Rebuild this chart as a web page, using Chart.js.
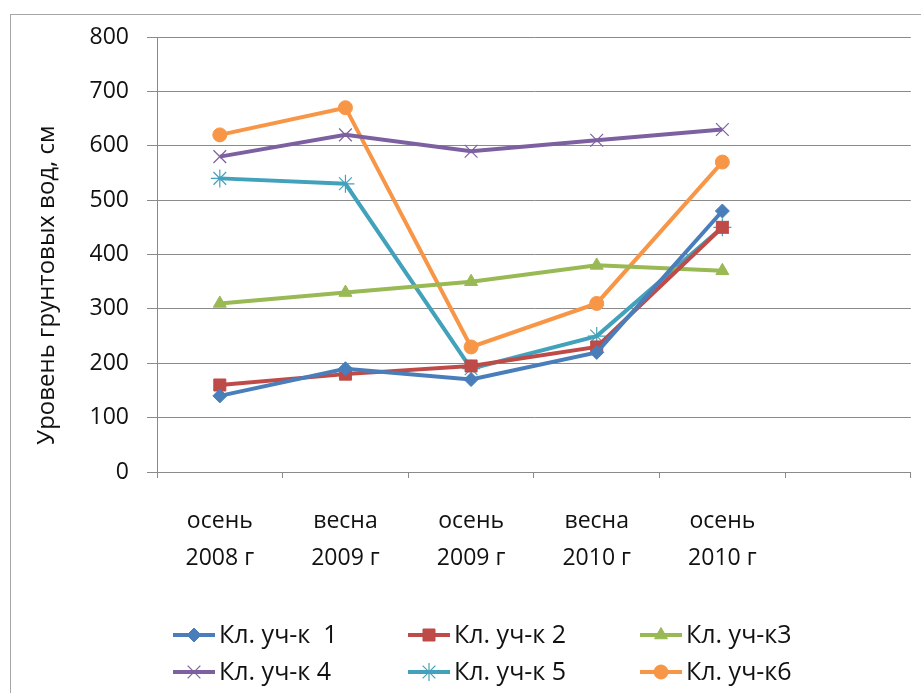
<!DOCTYPE html>
<html>
<head>
<meta charset="utf-8">
<script src="https://cdn.jsdelivr.net/npm/chart.js@4"></script>
<style>
  html, body { margin: 0; padding: 0; background: #fff; }
  #wrap { position: relative; width: 921px; height: 693px; overflow: hidden; }
  #frame { position: absolute; left: 10px; top: 14px; width: 940px; height: 720px; border: 1px solid #a6a6a6; }
  #c { position: absolute; left: 0; top: 0; }
</style>
</head>
<body>
<div id="wrap">
  <div id="frame"></div>
  <canvas id="c" width="921" height="693"></canvas>
</div>
<script>
// Sampling dates (the sixth slot is left blank on the axis)
const categories = [
  ['осень', '2008 г'],
  ['весна', '2009 г'],
  ['осень', '2009 г'],
  ['весна', '2010 г'],
  ['осень', '2010 г'],
  ''
];

const seriesNames = ['Кл. уч-к  1', 'Кл. уч-к 2', 'Кл. уч-к3', 'Кл. уч-к 4', 'Кл. уч-к 5', 'Кл. уч-к6'];

// Groundwater level, cm
const site1 = [140, 190, 170, 220, 480];
const site2 = [160, 180, 195, 230, 450];
const site3 = [310, 330, 350, 380, 370];
const site4 = [580, 620, 590, 610, 630];
const site5 = [540, 530, 190, 250, 450];
const site6 = [620, 670, 230, 310, 570];

const yTicks = { min: 0, max: 800, step: 100 };
const yTitle = 'Уровень грунтовых вод, см';

const FONT = '"Open Sans", "Noto Sans", sans-serif';
const TEXT = '#111';
const GRID = '#8a8a8a';

function series(label, data, color, style, radius, bw) {
  return {
    label, data,
    borderColor: color,
    backgroundColor: color,
    borderWidth: 4,
    pointStyle: style,
    pointRadius: radius,
    pointBorderWidth: bw,
    pointBackgroundColor: color,
    pointBorderColor: color,
    tension: 0,
    fill: false
  };
}

const datasets = [
  series(seriesNames[0], site1, '#4a7ebb', 'rectRot', 7, 1),
  series(seriesNames[1], site2, '#be4b48', 'rect', 8.5, 1),
  series(seriesNames[2], site3, '#98b954', 'triangle', 7.5, 1),
  series(seriesNames[3], site4, '#7d60a0', 'crossRot', 9, 1.2),
  series(seriesNames[4], site5, '#42a2bb', 'star', 9, 1.2),
  series(seriesNames[5], site6, '#f79646', 'circle', 7, 1)
];

// Rotated title on the value axis
const yTitlePlugin = {
  id: 'yTitle',
  afterDraw(chart) {
    const ctx = chart.ctx;
    ctx.save();
    ctx.translate(47, 285);
    ctx.rotate(-Math.PI / 2);
    ctx.font = '24px ' + FONT;
    ctx.fillStyle = TEXT;
    ctx.textAlign = 'center';
    ctx.textBaseline = 'middle';
    ctx.fillText(yTitle, 0, 0);
    ctx.restore();
  }
};

// Three-column legend below the axis
const gridLegend = {
  id: 'gridLegend',
  afterDraw(chart) {
    const ctx = chart.ctx;
    const cols = [173, 408, 640];
    const rows = [635, 672];
    chart.data.datasets.forEach((ds, i) => {
      const x = cols[i % 3];
      const y = rows[Math.floor(i / 3)];
      ctx.save();
      ctx.strokeStyle = ds.borderColor;
      ctx.lineWidth = 4;
      ctx.beginPath();
      ctx.moveTo(x, y);
      ctx.lineTo(x + 42, y);
      ctx.stroke();
      ctx.fillStyle = ds.pointBackgroundColor;
      ctx.strokeStyle = ds.pointBorderColor;
      ctx.lineWidth = ds.pointBorderWidth;
      Chart.helpers.drawPoint(ctx, {
        pointStyle: ds.pointStyle,
        radius: ds.pointRadius,
        borderWidth: ds.pointBorderWidth,
        rotation: 0
      }, x + 21, y);
      ctx.font = '25px ' + FONT;
      ctx.fillStyle = TEXT;
      ctx.textAlign = 'left';
      ctx.textBaseline = 'middle';
      ctx.fillText(ds.label, x + 46, y + 1);
      ctx.restore();
    });
  }
};

new Chart(document.getElementById('c'), {
  type: 'line',
  data: { labels: categories, datasets },
  options: {
    responsive: false,
    animation: false,
    devicePixelRatio: 1,
    layout: { padding: { left: 0, top: 37, right: 10, bottom: 0 } },
    plugins: {
      legend: { display: false },
      tooltip: { enabled: false }
    },
    scales: {
      x: {
        offset: true,
        grid: {
          offset: true,
          drawOnChartArea: false,
          drawTicks: true,
          tickLength: 6,
          color: GRID,
          lineWidth: 1
        },
        border: { color: GRID, width: 1 },
        ticks: {
          color: TEXT,
          font: { family: FONT, size: 23, lineHeight: 1.65 },
          padding: 24,
          maxRotation: 0,
          autoSkip: false
        },
        afterFit(scale) { scale.height = 693 - 472; }
      },
      y: {
        min: yTicks.min,
        max: yTicks.max,
        ticks: {
          stepSize: yTicks.step,
          color: TEXT,
          font: { family: FONT, size: 23 },
          padding: 18
        },
        grid: {
          color: GRID,
          lineWidth: 1,
          drawTicks: true,
          tickLength: 10
        },
        border: { color: GRID, width: 1 },
        afterFit(scale) { scale.width = 157; }
      }
    }
  },
  plugins: [yTitlePlugin, gridLegend]
});
</script>
</body>
</html>
